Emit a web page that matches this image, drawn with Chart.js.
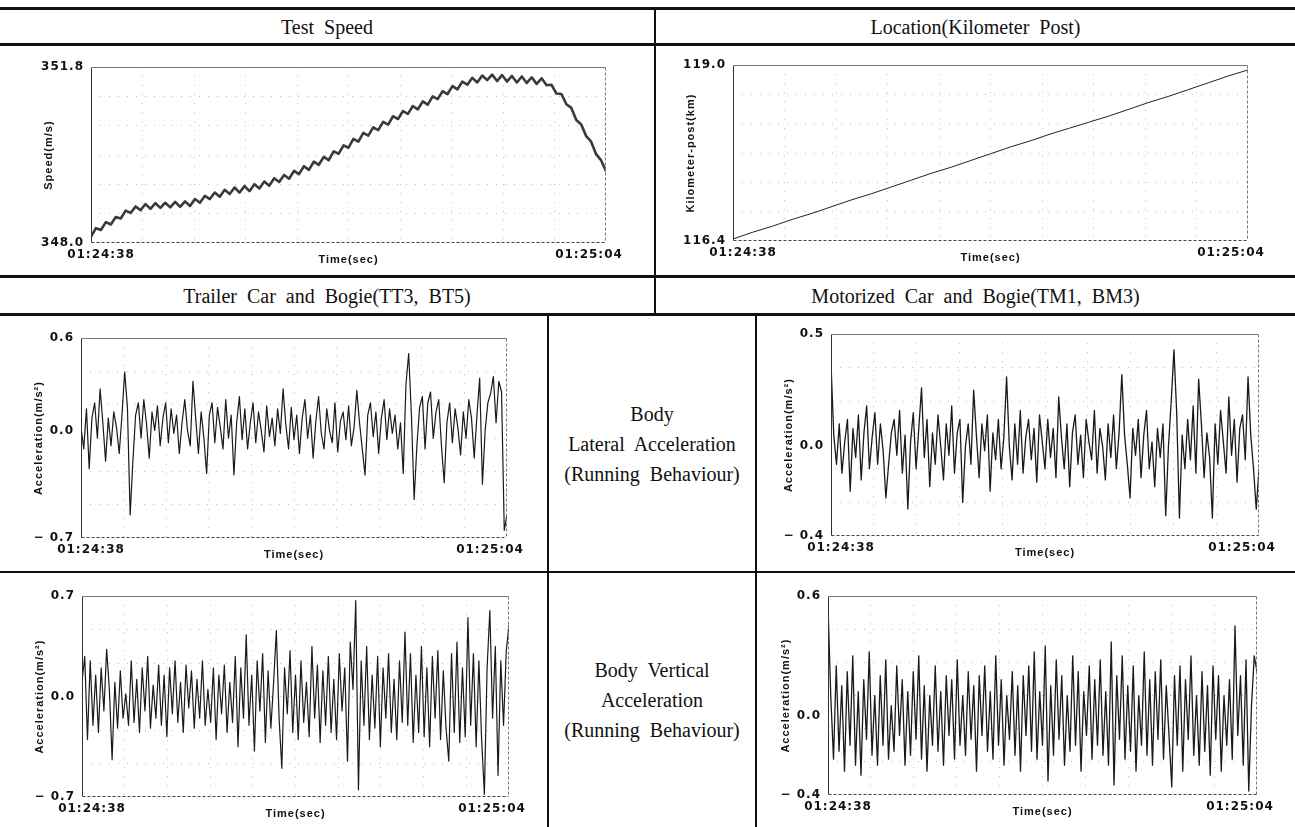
<!DOCTYPE html>
<html>
<head>
<meta charset="utf-8">
<script src="https://cdn.jsdelivr.net/npm/chart.js@4.4.0/dist/chart.umd.min.js"></script>
<style>
html, body { margin: 0; padding: 0; background: #fff; }
#page { position: relative; width: 1295px; height: 827px; overflow: hidden; background: #fff; }
.hl, .vl { position: absolute; background: #111; }
.cap { position: absolute; display: flex; align-items: center; justify-content: center; text-align: center;
       font-family: "Liberation Serif", "Times New Roman", serif; font-size: 20px; color: #111;
       word-spacing: 5px; line-height: 30px; }
canvas { position: absolute; }
</style>
</head>
<body>
<div id="page">
  <div class="hl" style="left:0;top:7px;width:1295px;height:3px"></div>
  <div class="hl" style="left:0;top:43px;width:1295px;height:3px"></div>
  <div class="hl" style="left:0;top:275px;width:1295px;height:3px"></div>
  <div class="hl" style="left:0;top:313px;width:1295px;height:3px"></div>
  <div class="hl" style="left:0;top:571px;width:1295px;height:2px"></div>
  <div class="vl" style="left:654px;top:8px;width:2px;height:307px"></div>
  <div class="vl" style="left:547px;top:314px;width:2px;height:513px"></div>
  <div class="vl" style="left:755px;top:314px;width:2px;height:513px"></div>

  <div class="cap" style="left:0;top:10px;width:654px;height:33px">Test Speed</div>
  <div class="cap" style="left:656px;top:10px;width:639px;height:33px">Location(Kilometer Post)</div>
  <div class="cap" style="left:0;top:278px;width:654px;height:35px">Trailer Car and Bogie(TT3, BT5)</div>
  <div class="cap" style="left:656px;top:278px;width:639px;height:35px">Motorized Car and Bogie(TM1, BM3)</div>
  <div class="cap" style="left:549px;top:316px;width:206px;height:255px">Body<br>Lateral Acceleration<br>(Running Behaviour)</div>
  <div class="cap" style="left:549px;top:573px;width:206px;height:254px">Body Vertical<br>Acceleration<br>(Running Behaviour)</div>
</div>

<script>
// time axis: 01:24:38 -> 01:25:04
const timeLabels = ['01:24:38', '01:25:04'];
const timeSpanSec = 26;

// test speed (m/s), sampled every 0.25 s
const speed = [
  348.14, 348.32, 348.28, 348.45, 348.40, 348.56, 348.53, 348.70, 348.65, 348.79,
  348.71, 348.84, 348.74, 348.86, 348.76, 348.87, 348.77, 348.89, 348.78, 348.90,
  348.80, 348.95, 348.87, 349.02, 348.95, 349.09, 349.00, 349.15, 349.06, 349.20,
  349.09, 349.23, 349.12, 349.27, 349.18, 349.33, 349.24, 349.40, 349.32, 349.47,
  349.39, 349.56, 349.49, 349.66, 349.58, 349.76, 349.69, 349.86, 349.79, 349.98,
  349.93, 350.11, 350.06, 350.25, 350.19, 350.38, 350.32, 350.50, 350.44, 350.62,
  350.56, 350.74, 350.68, 350.85, 350.79, 350.96, 350.89, 351.06, 350.99, 351.17,
  351.11, 351.28, 351.22, 351.39, 351.32, 351.49, 351.42, 351.57, 351.47, 351.62,
  351.52, 351.64, 351.50, 351.63, 351.49, 351.61, 351.47, 351.60, 351.46, 351.58,
  351.44, 351.56, 351.41, 351.42, 351.23, 351.22, 351.00, 350.92, 350.66, 350.56,
  350.31, 350.19, 349.92, 349.79, 349.55
];
const speedTicks = [348.0, 351.8];

// kilometer post (km), one value per second
const kmPost = [
  116.43, 116.53, 116.62, 116.72, 116.81, 116.91, 117.01, 117.10, 117.20, 117.30,
  117.40, 117.49, 117.59, 117.69, 117.79, 117.88, 117.98, 118.07, 118.16, 118.25,
  118.35, 118.45, 118.54, 118.64, 118.74, 118.84, 118.93
];
const kmTicks = [116.4, 119.0];

// body lateral acceleration, trailer car (m/s2)
const trailerLat = [
  0.02, -0.12, 0.14, -0.25, 0.08, 0.18, -0.05, 0.27, 0.05, -0.20,
  0.08, -0.10, 0.12, 0.02, -0.15, 0.10, 0.38, 0.15, -0.55, -0.20,
  0.10, 0.18, -0.05, 0.20, 0.04, -0.18, 0.12, 0.00, 0.16, -0.10,
  0.08, 0.18, -0.08, 0.14, -0.02, 0.10, -0.15, 0.05, 0.20, 0.00,
  -0.10, 0.32, 0.08, -0.15, 0.12, -0.05, -0.28, 0.10, 0.18, -0.08,
  0.15, 0.02, -0.12, 0.20, -0.05, 0.10, -0.29, 0.05, 0.22, -0.06,
  0.14, -0.12, 0.05, 0.18, -0.08, 0.12, 0.00, -0.14, 0.16, -0.04,
  0.08, -0.10, 0.14, -0.02, 0.27, 0.04, -0.12, 0.15, -0.06, 0.10,
  -0.15, 0.08, 0.20, -0.05, 0.10, -0.18, 0.06, 0.22, -0.02, -0.12,
  0.14, 0.00, -0.08, 0.18, -0.14, 0.06, 0.12, -0.06, 0.16, -0.10,
  0.02, 0.26, 0.05, -0.12, -0.29, 0.10, 0.18, -0.04, 0.12, -0.15,
  0.08, 0.20, -0.06, 0.14, -0.02, 0.10, -0.12, 0.05, -0.28, 0.30,
  0.50, 0.10, -0.45, -0.10, 0.15, 0.22, -0.12, 0.18, 0.25, -0.05,
  0.12, 0.20, -0.10, -0.34, 0.05, 0.18, -0.08, 0.14, 0.02, -0.16,
  0.12, -0.05, 0.20, 0.08, -0.18, 0.10, 0.34, -0.35, 0.00, 0.18,
  0.24, 0.35, 0.05, 0.32, 0.25, -0.65, -0.55
];
const trailerLatTicks = [-0.7, 0.0, 0.6];

// body lateral acceleration, motorized car
const motorLat = [
  0.37, 0.05, -0.08, 0.10, -0.12, 0.02, 0.12, -0.20, 0.08, -0.05,
  0.14, -0.15, 0.06, 0.18, -0.10, 0.04, 0.15, -0.08, 0.10, -0.02,
  -0.23, -0.08, 0.06, 0.12, -0.04, 0.16, -0.12, 0.05, -0.28, 0.02,
  0.15, -0.10, 0.08, 0.26, -0.05, 0.12, -0.18, 0.06, -0.08, 0.14,
  0.00, -0.15, 0.10, -0.04, 0.18, -0.12, 0.06, 0.12, -0.25, 0.00,
  0.10, -0.08, 0.25, 0.05, -0.14, 0.10, -0.02, 0.14, -0.20, 0.06,
  -0.06, 0.12, -0.10, 0.04, 0.31, 0.00, -0.15, 0.10, -0.08, 0.16,
  -0.12, 0.04, 0.12, -0.06, 0.08, -0.16, 0.14, 0.02, -0.10, 0.12,
  -0.05, 0.08, -0.14, 0.22, 0.04, -0.10, 0.10, -0.18, 0.06, 0.14,
  -0.08, 0.05, -0.14, 0.12, 0.02, -0.06, 0.16, -0.12, 0.08, 0.00,
  -0.15, 0.10, -0.05, 0.14, -0.10, 0.06, 0.32, 0.05, -0.08, -0.23,
  0.08, -0.04, 0.12, -0.14, 0.05, 0.16, -0.10, 0.02, -0.18, 0.08,
  -0.05, 0.10, -0.31, 0.00, 0.20, 0.43, 0.15, -0.32, 0.05, -0.10,
  0.12, -0.06, 0.18, -0.12, 0.30, 0.10, -0.14, 0.06, -0.05, -0.32,
  0.10, -0.08, 0.16, 0.02, -0.12, 0.22, -0.04, 0.12, -0.16, 0.08,
  0.14, -0.06, 0.31, 0.05, -0.10, -0.28, -0.10
];
const motorLatTicks = [-0.4, 0.0, 0.5];

// body vertical acceleration, trailer car
const trailerVert = [
  0.10, 0.28, -0.30, 0.25, -0.20, 0.15, -0.25, 0.20, -0.10, 0.33,
  0.05, -0.44, 0.10, -0.22, 0.18, -0.15, 0.02, -0.20, 0.25, -0.18,
  0.12, -0.25, 0.20, -0.10, 0.28, -0.22, 0.08, -0.15, 0.22, -0.20,
  0.15, -0.28, 0.20, -0.12, 0.25, -0.18, 0.10, -0.25, 0.22, -0.08,
  0.18, -0.22, 0.12, -0.15, 0.25, -0.20, 0.05, -0.18, 0.20, -0.30,
  0.15, -0.12, 0.22, -0.25, 0.10, -0.18, 0.28, -0.35, 0.20, -0.15,
  0.43, -0.20, 0.15, -0.38, 0.25, -0.10, 0.30, -0.32, 0.18, -0.22,
  0.10, 0.46, -0.15, -0.50, 0.20, -0.12, 0.32, -0.25, 0.15, -0.30,
  0.25, -0.18, 0.10, -0.28, 0.35, -0.15, 0.22, -0.32, 0.18, -0.20,
  0.28, -0.25, 0.12, -0.30, 0.30, -0.10, 0.20, -0.45, 0.38, 0.05,
  0.67, -0.65, 0.25, -0.20, 0.35, -0.30, 0.15, -0.22, 0.28, -0.35,
  0.20, -0.15, 0.30, -0.25, 0.12, -0.30, 0.25, -0.18, 0.45, -0.20,
  0.30, -0.32, 0.15, -0.25, 0.35, -0.28, 0.20, -0.35, 0.28, -0.15,
  0.32, -0.30, 0.18, -0.22, -0.45, 0.30, -0.25, 0.38, -0.32, 0.20,
  -0.28, 0.55, -0.20, 0.30, -0.35, 0.25, -0.30, -0.68, 0.20, 0.60,
  -0.15, 0.35, -0.55, 0.25, -0.20, 0.32, 0.50
];
const trailerVertTicks = [-0.7, 0.0, 0.7];

// body vertical acceleration, motorized car
const motorVert = [
  0.55, 0.10, -0.22, 0.25, -0.18, 0.15, -0.28, 0.22, -0.15, 0.30,
  -0.25, 0.12, -0.30, 0.18, -0.12, 0.32, -0.20, 0.10, -0.25, 0.20,
  -0.15, 0.28, -0.22, 0.05, -0.18, 0.25, -0.10, 0.18, -0.25, 0.12,
  -0.20, 0.22, -0.12, 0.30, -0.22, 0.15, -0.28, 0.10, -0.15, 0.25,
  -0.18, 0.12, -0.25, 0.20, -0.10, 0.18, -0.22, 0.28, -0.15, 0.10,
  -0.20, 0.22, -0.12, 0.15, -0.28, 0.20, -0.10, 0.25, -0.18, 0.12,
  -0.22, 0.30, -0.15, 0.18, -0.25, 0.10, -0.12, 0.22, -0.20, 0.15,
  -0.28, 0.20, -0.10, 0.25, -0.18, 0.32, -0.22, 0.12, -0.15, 0.35,
  -0.33, 0.15, -0.20, 0.28, -0.12, 0.20, -0.25, 0.10, -0.18, 0.30,
  -0.15, 0.22, -0.28, 0.12, -0.10, 0.25, -0.22, 0.18, -0.15, 0.28,
  -0.20, 0.12, -0.25, 0.37, -0.35, 0.20, -0.12, 0.30, -0.22, 0.15,
  -0.18, 0.25, -0.28, 0.10, -0.15, 0.32, -0.20, 0.18, -0.25, 0.22,
  -0.12, 0.28, -0.22, 0.15, -0.10, -0.36, 0.20, -0.15, 0.25, -0.28,
  0.18, -0.12, 0.30, -0.20, 0.10, -0.25, 0.22, -0.18, 0.15, -0.30,
  0.25, -0.12, 0.20, -0.28, 0.10, -0.15, 0.18, -0.22, 0.45, -0.10,
  0.20, -0.25, 0.28, -0.38, 0.05, 0.30, 0.22
];
const motorVertTicks = [-0.4, 0.0, 0.6];

const page = document.getElementById('page');
const GRID = '#bdbdbd';
const CLEAR = 'rgba(0,0,0,0)';

function fmt(v) {
  if (v === 0) return '0.0';
  if (v < 0) return '\u2212 ' + Math.abs(v).toFixed(1);
  return v.toFixed(1);
}

// dashed plot frame like the original recorder print
const framePlugin = {
  id: 'frame',
  beforeDraw(chart) { chart.ctx.letterSpacing = '1px'; },
  afterDatasetsDraw(chart) {
    const { ctx, chartArea: a } = chart;
    const l = Math.round(a.left) + 0.5, r = Math.round(a.right) - 0.5;
    const t = Math.round(a.top) + 0.5, b = Math.round(a.bottom) - 0.5;
    ctx.save();
    ctx.lineWidth = 1;
    ctx.setLineDash([]);
    ctx.strokeStyle = '#333';
    ctx.beginPath(); ctx.moveTo(l, t); ctx.lineTo(l, b); ctx.stroke();
    ctx.strokeStyle = '#777';
    ctx.beginPath(); ctx.moveTo(l, t); ctx.lineTo(r, t); ctx.stroke();
    ctx.setLineDash([3, 2]);
    ctx.strokeStyle = '#444';
    ctx.beginPath(); ctx.moveTo(l, b); ctx.lineTo(r, b); ctx.stroke();
    ctx.strokeStyle = '#777';
    ctx.beginPath(); ctx.moveTo(r, t); ctx.lineTo(r, b); ctx.stroke();
    ctx.restore();
  }
};

function makeChart(spec) {
  const [x0, y0, x1, y1] = spec.plot;
  const yw = 50, xh = 24, padTop = 10, padRight = 30;
  const c = document.createElement('canvas');
  c.width = x1 - x0 + yw + padRight;
  c.height = y1 - y0 + padTop + xh;
  c.style.left = (x0 - yw) + 'px';
  c.style.top = (y0 - padTop) + 'px';
  page.appendChild(c);

  const pxPerSec = (x1 - x0) / timeSpanSec;
  const leftAt = 10 / pxPerSec, rightAt = timeSpanSec - 17 / pxPerSec;
  const xGrid = [];
  for (let k = 1; k < 10; k++) xGrid.push(timeSpanSec * k / 10);
  const yMin = spec.ticks[0], yMax = spec.ticks[spec.ticks.length - 1];
  const yGrid = [];
  for (let k = 1; k < 6; k++) yGrid.push(yMin + (yMax - yMin) * k / 6);

  const step = timeSpanSec / (spec.values.length - 1);
  const points = spec.values.map((v, i) => ({ x: i * step, y: v }));

  const tickFont = { family: 'DejaVu Sans', weight: 'bold', size: 12 };
  const titleFont = { family: 'Liberation Sans', weight: 'bold', size: 11 };

  new Chart(c, {
    type: 'line',
    data: { datasets: [{ data: points, borderColor: spec.color, borderWidth: spec.width,
                         pointRadius: 0, tension: 0, borderJoinStyle: 'round' }] },
    options: {
      responsive: false, animation: false, events: [],
      layout: { padding: { left: 0, top: padTop, right: padRight, bottom: 0 } },
      plugins: { legend: { display: false }, tooltip: { enabled: false } },
      scales: {
        x: {
          type: 'linear', min: 0, max: timeSpanSec,
          afterBuildTicks: s => { s.ticks = [leftAt, ...xGrid, rightAt].map(v => ({ value: v })); },
          afterFit: s => { s.height = xh; },
          ticks: { autoSkip: false, maxRotation: 0, padding: 5, color: '#111', font: tickFont,
                   callback: (v, i, arr) => i === 0 ? timeLabels[0] : (i === arr.length - 1 ? timeLabels[1] : '') },
          grid: { drawTicks: false, lineWidth: 1, borderDash: [1, 8],
                  color: ctx => (ctx.index === 0 || ctx.index === 10) ? CLEAR : GRID },
          border: { display: false, dash: [1, 8] },
          title: { display: true, text: 'Time(sec)', color: '#111', font: titleFont,
                   padding: { top: 0, bottom: 0 } }
        },
        y: {
          type: 'linear', min: yMin, max: yMax,
          afterBuildTicks: s => {
            const vals = [...spec.ticks, ...yGrid];
            s.ticks = vals.sort((a, b) => a - b).map(v => ({ value: v }));
          },
          afterFit: s => { s.width = yw; },
          ticks: { autoSkip: false, padding: 7, color: '#111', font: tickFont,
                   callback: v => spec.ticks.includes(v) ? fmt(v) : '' },
          grid: { drawTicks: false, lineWidth: 1, borderDash: [1, 8],
                  color: ctx => (ctx.tick && spec.ticks.includes(ctx.tick.value)) ? CLEAR : GRID },
          border: { display: false, dash: [1, 8] },
          title: { display: true, text: spec.yTitle, color: '#111', font: titleFont,
                   padding: { top: 1, bottom: 0 } }
        }
      }
    },
    plugins: [framePlugin]
  });
}

makeChart({ plot: [91, 63, 606, 243], values: speed, ticks: speedTicks,
            yTitle: 'Speed(m/s)', color: '#3a3a3a', width: 2.6 });
makeChart({ plot: [733, 61, 1248, 241], values: kmPost, ticks: kmTicks,
            yTitle: 'Kilometer-post(km)', color: '#222', width: 1 });
makeChart({ plot: [81, 334, 507, 538], values: trailerLat, ticks: trailerLatTicks,
            yTitle: 'Acceleration(m/s\u00b2)', color: '#1a1a1a', width: 1.2 });
makeChart({ plot: [831, 330, 1259, 536], values: motorLat, ticks: motorLatTicks,
            yTitle: 'Acceleration(m/s\u00b2)', color: '#1a1a1a', width: 1.3 });
makeChart({ plot: [82, 592, 509, 797], values: trailerVert, ticks: trailerVertTicks,
            yTitle: 'Acceleration(m/s\u00b2)', color: '#1a1a1a', width: 1.2 });
makeChart({ plot: [828, 592, 1257, 795], values: motorVert, ticks: motorVertTicks,
            yTitle: 'Acceleration(m/s\u00b2)', color: '#1a1a1a', width: 1.3 });
</script>
</body>
</html>
